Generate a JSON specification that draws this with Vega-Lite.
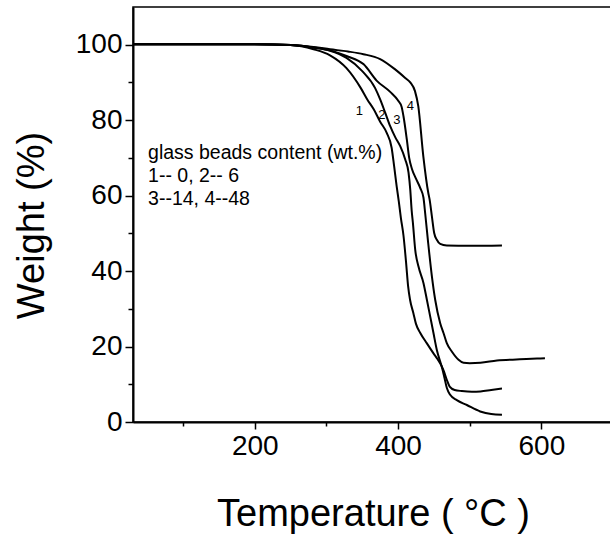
{
  "$schema": "https://vega.github.io/schema/vega-lite/v6.json",
  "width": 480,
  "height": 415,
  "autosize": {"type": "none"},
  "padding": {"left": 133, "top": 7, "right": 0, "bottom": 115},
  "background": "white",
  "config": {
    "view": {"stroke": "black", "strokeWidth": 1.5},
    "font": "Liberation Sans",
    "axis": {"grid": false, "domainColor": "black", "domainWidth": 2, "tickColor": "black", "tickWidth": 1.5, "labelColor": "black", "titleColor": "black", "labelFont": "Liberation Sans", "titleFont": "Liberation Sans", "titleFontWeight": "normal", "labelFontSize": 28, "titleFontSize": 38}
  },
  "datasets": {
    "curves": [
      {"curve": "1", "T": 30, "W": 100.1}, {"curve": "1", "T": 100, "W": 100.1}, {"curve": "1", "T": 200, "W": 100.1}, {"curve": "1", "T": 250, "W": 99.9}, {"curve": "1", "T": 282, "W": 98.8}, {"curve": "1", "T": 305, "W": 97.2}, {"curve": "1", "T": 328, "W": 93.8}, {"curve": "1", "T": 348, "W": 88.5}, {"curve": "1", "T": 357, "W": 85.5}, {"curve": "1", "T": 366, "W": 82.9}, {"curve": "1", "T": 375, "W": 79.6}, {"curve": "1", "T": 384, "W": 76.7}, {"curve": "1", "T": 391, "W": 72.7}, {"curve": "1", "T": 394.5, "W": 67.8}, {"curve": "1", "T": 398, "W": 62.5}, {"curve": "1", "T": 401, "W": 58.5}, {"curve": "1", "T": 404, "W": 54}, {"curve": "1", "T": 407.5, "W": 49.5}, {"curve": "1", "T": 411.3, "W": 42}, {"curve": "1", "T": 414, "W": 36}, {"curve": "1", "T": 416.7, "W": 32.4}, {"curve": "1", "T": 421.3, "W": 28.9}, {"curve": "1", "T": 425, "W": 26}, {"curve": "1", "T": 431, "W": 23.6}, {"curve": "1", "T": 440, "W": 20.9}, {"curve": "1", "T": 449.4, "W": 18.2}, {"curve": "1", "T": 455, "W": 16.7}, {"curve": "1", "T": 460.6, "W": 14.9}, {"curve": "1", "T": 464, "W": 13.4}, {"curve": "1", "T": 468, "W": 11.2}, {"curve": "1", "T": 472, "W": 9.4}, {"curve": "1", "T": 479, "W": 8.5}, {"curve": "1", "T": 489, "W": 8.2}, {"curve": "1", "T": 503, "W": 8.0}, {"curve": "1", "T": 515, "W": 8.1}, {"curve": "1", "T": 530, "W": 8.5}, {"curve": "1", "T": 545, "W": 8.9},
      {"curve": "2", "T": 30, "W": 100.1}, {"curve": "2", "T": 200, "W": 100.1}, {"curve": "2", "T": 250, "W": 99.9}, {"curve": "2", "T": 282, "W": 99.2}, {"curve": "2", "T": 305, "W": 98.4}, {"curve": "2", "T": 328, "W": 96.5}, {"curve": "2", "T": 350, "W": 93}, {"curve": "2", "T": 368, "W": 88.5}, {"curve": "2", "T": 375, "W": 85.5}, {"curve": "2", "T": 382, "W": 82}, {"curve": "2", "T": 389, "W": 78.4}, {"curve": "2", "T": 396, "W": 75.5}, {"curve": "2", "T": 403, "W": 73.1}, {"curve": "2", "T": 410, "W": 69.6}, {"curve": "2", "T": 414.6, "W": 66.1}, {"curve": "2", "T": 417, "W": 61.6}, {"curve": "2", "T": 419, "W": 56}, {"curve": "2", "T": 420.7, "W": 52.8}, {"curve": "2", "T": 423.9, "W": 45.7}, {"curve": "2", "T": 428.5, "W": 41.2}, {"curve": "2", "T": 435.5, "W": 36.8}, {"curve": "2", "T": 440.2, "W": 32.4}, {"curve": "2", "T": 444.8, "W": 28}, {"curve": "2", "T": 449.4, "W": 23.6}, {"curve": "2", "T": 454.1, "W": 19.1}, {"curve": "2", "T": 458.8, "W": 16}, {"curve": "2", "T": 460.6, "W": 14.9}, {"curve": "2", "T": 464.4, "W": 12}, {"curve": "2", "T": 468.1, "W": 9}, {"curve": "2", "T": 472.7, "W": 7.2}, {"curve": "2", "T": 482, "W": 5.8}, {"curve": "2", "T": 496, "W": 4.5}, {"curve": "2", "T": 514.6, "W": 2.8}, {"curve": "2", "T": 530, "W": 2.1}, {"curve": "2", "T": 545, "W": 1.9},
      {"curve": "3", "T": 30, "W": 100.1}, {"curve": "3", "T": 200, "W": 100.1}, {"curve": "3", "T": 250, "W": 99.9}, {"curve": "3", "T": 282, "W": 99.3}, {"curve": "3", "T": 305, "W": 98.5}, {"curve": "3", "T": 328, "W": 97}, {"curve": "3", "T": 352, "W": 94.8}, {"curve": "3", "T": 370, "W": 90.5}, {"curve": "3", "T": 389, "W": 87.5}, {"curve": "3", "T": 400, "W": 85.2}, {"curve": "3", "T": 405, "W": 83.5}, {"curve": "3", "T": 407.5, "W": 81.1}, {"curve": "3", "T": 412.2, "W": 74.9}, {"curve": "3", "T": 415.5, "W": 70}, {"curve": "3", "T": 419.5, "W": 67}, {"curve": "3", "T": 425, "W": 64.5}, {"curve": "3", "T": 431, "W": 62}, {"curve": "3", "T": 435.4, "W": 59.5}, {"curve": "3", "T": 438, "W": 55}, {"curve": "3", "T": 442, "W": 47.5}, {"curve": "3", "T": 447.2, "W": 38.6}, {"curve": "3", "T": 451.8, "W": 32.4}, {"curve": "3", "T": 458.8, "W": 26.2}, {"curve": "3", "T": 463.4, "W": 23.6}, {"curve": "3", "T": 468, "W": 20.9}, {"curve": "3", "T": 475, "W": 18.7}, {"curve": "3", "T": 484.4, "W": 16.5}, {"curve": "3", "T": 491.4, "W": 15.7}, {"curve": "3", "T": 500, "W": 15.6}, {"curve": "3", "T": 515, "W": 15.7}, {"curve": "3", "T": 538, "W": 16.3}, {"curve": "3", "T": 570, "W": 16.6}, {"curve": "3", "T": 594, "W": 16.8}, {"curve": "3", "T": 605, "W": 16.9},
      {"curve": "4", "T": 30, "W": 100.1}, {"curve": "4", "T": 200, "W": 100.1}, {"curve": "4", "T": 250, "W": 99.9}, {"curve": "4", "T": 282, "W": 99.4}, {"curve": "4", "T": 305, "W": 98.8}, {"curve": "4", "T": 330, "W": 98.2}, {"curve": "4", "T": 351.6, "W": 97.5}, {"curve": "4", "T": 375, "W": 96.2}, {"curve": "4", "T": 395, "W": 93.6}, {"curve": "4", "T": 410, "W": 91.2}, {"curve": "4", "T": 417, "W": 90}, {"curve": "4", "T": 423.6, "W": 87.7}, {"curve": "4", "T": 428.2, "W": 83.7}, {"curve": "4", "T": 435.2, "W": 70.5}, {"curve": "4", "T": 442.2, "W": 60.7}, {"curve": "4", "T": 444, "W": 59}, {"curve": "4", "T": 447.2, "W": 54.5}, {"curve": "4", "T": 450.4, "W": 50.1}, {"curve": "4", "T": 454.1, "W": 48.3}, {"curve": "4", "T": 458.8, "W": 47.2}, {"curve": "4", "T": 468, "W": 46.8}, {"curve": "4", "T": 500, "W": 46.7}, {"curve": "4", "T": 545, "W": 46.8}
    ],
    "curveLabels": [
      {"label": "1", "T": 346, "W": 82.4},
      {"label": "2", "T": 377.5, "W": 81.4},
      {"label": "3", "T": 398.4, "W": 80.1},
      {"label": "4", "T": 417.2, "W": 83.7}
    ],
    "notes": [
      {"text": "glass beads content (wt.%)", "T": 51, "W": 71.4},
      {"text": "1-- 0, 2-- 6", "T": 51, "W": 65.2},
      {"text": "3--14, 4--48", "T": 51, "W": 59.0}
    ]
  },
  "layer": [
    {
      "data": {"name": "curves"},
      "mark": {"type": "line", "color": "black", "strokeWidth": 2, "interpolate": "monotone"},
      "encoding": {
        "x": {"field": "T", "type": "quantitative", "scale": {"domain": [30, 700], "nice": false, "zero": false},
          "axis": {"title": "Temperature ( °C )", "values": [100, 200, 300, 400, 500, 600, 700], "labelExpr": "datum.value % 200 === 0 ? datum.label : ''", "labelOverlap": false, "labelFlush": false, "format": "d",
            "tickSize": {"condition": {"test": "datum.value % 200 === 0", "value": 7}, "value": 4}, "labelPadding": 3, "titleY": 103, "titleBaseline": "alphabetic", "titlePadding": 0}},
        "y": {"field": "W", "type": "quantitative", "scale": {"domain": [0, 110], "nice": false, "zero": false},
          "axis": {"title": "Weight (%)", "values": [0, 10, 20, 30, 40, 50, 60, 70, 80, 90, 100], "labelExpr": "datum.value % 20 === 0 ? datum.label : ''", "labelOverlap": false, "labelFlush": false, "format": "d",
            "tickSize": {"condition": {"test": "datum.value % 20 === 0", "value": 8}, "value": 5}, "labelPadding": 3, "titleX": -90, "titleY": 218, "titleAngle": -90, "titleAlign": "center", "titleBaseline": "alphabetic"}},
        "detail": {"field": "curve", "type": "nominal"}
      }
    },
    {
      "data": {"name": "curveLabels"},
      "mark": {"type": "text", "fontSize": 13, "font": "Liberation Sans", "color": "black", "align": "center", "baseline": "middle"},
      "encoding": {
        "x": {"field": "T", "type": "quantitative"},
        "y": {"field": "W", "type": "quantitative"},
        "text": {"field": "label"}
      }
    },
    {
      "data": {"name": "notes"},
      "mark": {"type": "text", "fontSize": 19.5, "font": "Liberation Sans", "color": "black", "align": "left", "baseline": "middle"},
      "encoding": {
        "x": {"field": "T", "type": "quantitative"},
        "y": {"field": "W", "type": "quantitative"},
        "text": {"field": "text"}
      }
    }
  ]
}
